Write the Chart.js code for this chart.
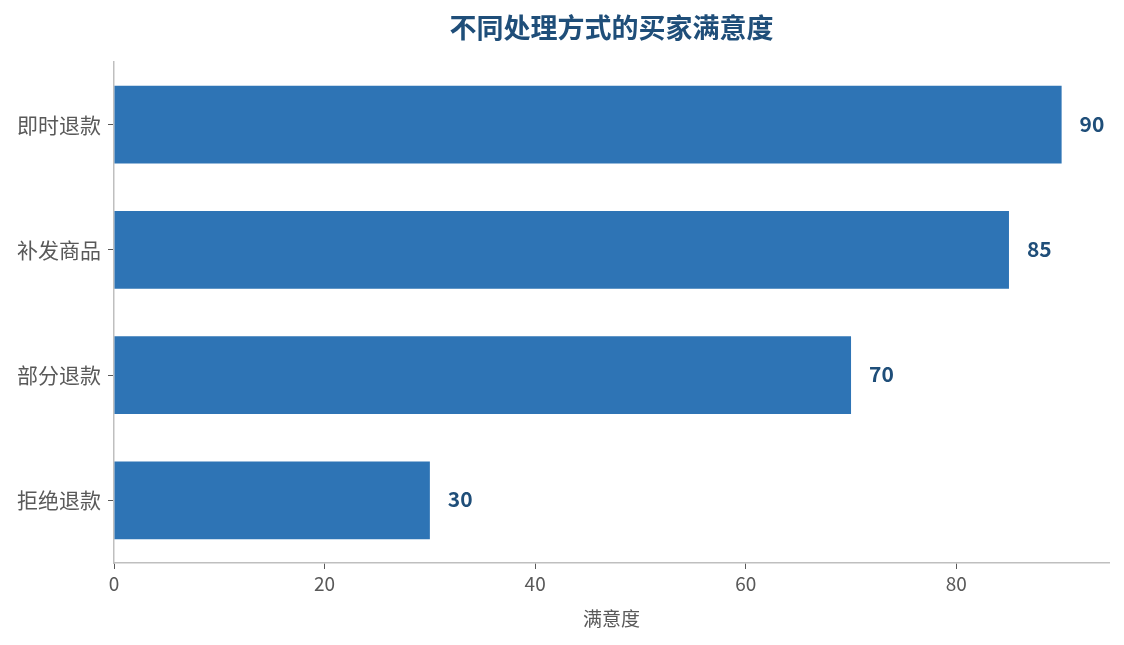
<!DOCTYPE html>
<html>
<head>
<meta charset="utf-8">
<script src="https://cdn.jsdelivr.net/npm/chart.js@4.4.1/dist/chart.umd.min.js"></script>
<style>
  html, body { margin: 0; padding: 0; background: #fff; }
  #wrap { width: 1124px; height: 645px; }
</style>
</head>
<body>
<div id="wrap"><canvas id="chart" width="1124" height="645"></canvas></div>
<script>
(function () {

  var categories = ['即时退款', '补发商品', '部分退款', '拒绝退款'];
  var satisfaction = [90, 85, 70, 30];
  var xTicks = [0, 20, 40, 60, 80];
  var chartTitle = '不同处理方式的买家满意度';

  var font = '"Noto Sans CJK SC", "Noto Sans", sans-serif';
  var dark = '#1f4e79';
  var grey = '#595959';

  // value labels at the end of each bar + title centred over the plot
  var barLabels = {
    id: 'barLabels',
    afterDatasetsDraw: function (chart) {
      var c = chart.ctx;
      var meta = chart.getDatasetMeta(0);
      var area = chart.chartArea;
      c.save();
      c.font = 'bold 21px ' + font;
      c.fillStyle = dark;
      c.textAlign = 'left';
      c.textBaseline = 'middle';
      meta.data.forEach(function (bar, i) {
        c.fillText(String(satisfaction[i]), bar.x + 18, bar.y - 1);
      });
      c.font = 'bold 27px ' + font;
      c.textAlign = 'center';
      c.fillText(chartTitle, (area.left + area.right) / 2, 28);
      c.restore();
    }
  };

  new Chart(document.getElementById('chart').getContext('2d'), {
    type: 'bar',
    data: {
      labels: categories,
      datasets: [{
        data: satisfaction,
        backgroundColor: '#2e74b5',
        borderWidth: 0,
        barPercentage: 0.62,
        categoryPercentage: 1
      }]
    },
    options: {
      indexAxis: 'y',
      responsive: false,
      animation: false,
      layout: { padding: { left: 0, right: 15, top: 62, bottom: 0 } },
      plugins: {
        legend: { display: false },
        tooltip: { enabled: false },
        title: { display: false }
      },
      scales: {
        x: {
          min: 0,
          max: 94.5,
          afterBuildTicks: function (scale) {
            scale.ticks = xTicks.map(function (v) { return { value: v }; });
          },
          afterFit: function (scale) { scale.height = 82; },
          grid: {
            display: true,
            drawOnChartArea: false,
            drawTicks: true,
            tickLength: 6,
            color: grey
          },
          border: { display: true, color: '#bfbfbf', width: 1.5 },
          ticks: {
            color: grey,
            padding: 3,
            font: { family: font, size: 19 }
          },
          title: {
            display: true,
            text: '满意度',
            color: grey,
            font: { family: font, size: 19 },
            padding: { top: 0, bottom: 15 }
          }
        },
        y: {
          afterFit: function (scale) { scale.width = 114; },
          grid: {
            display: true,
            offset: false,
            drawOnChartArea: false,
            drawTicks: true,
            tickLength: 6,
            color: grey
          },
          border: { display: true, color: '#bfbfbf', width: 1.5 },
          ticks: {
            color: grey,
            padding: 7,
            font: { family: font, size: 21 }
          }
        }
      }
    },
    plugins: [barLabels]
  });

})();
</script>
</body>
</html>
